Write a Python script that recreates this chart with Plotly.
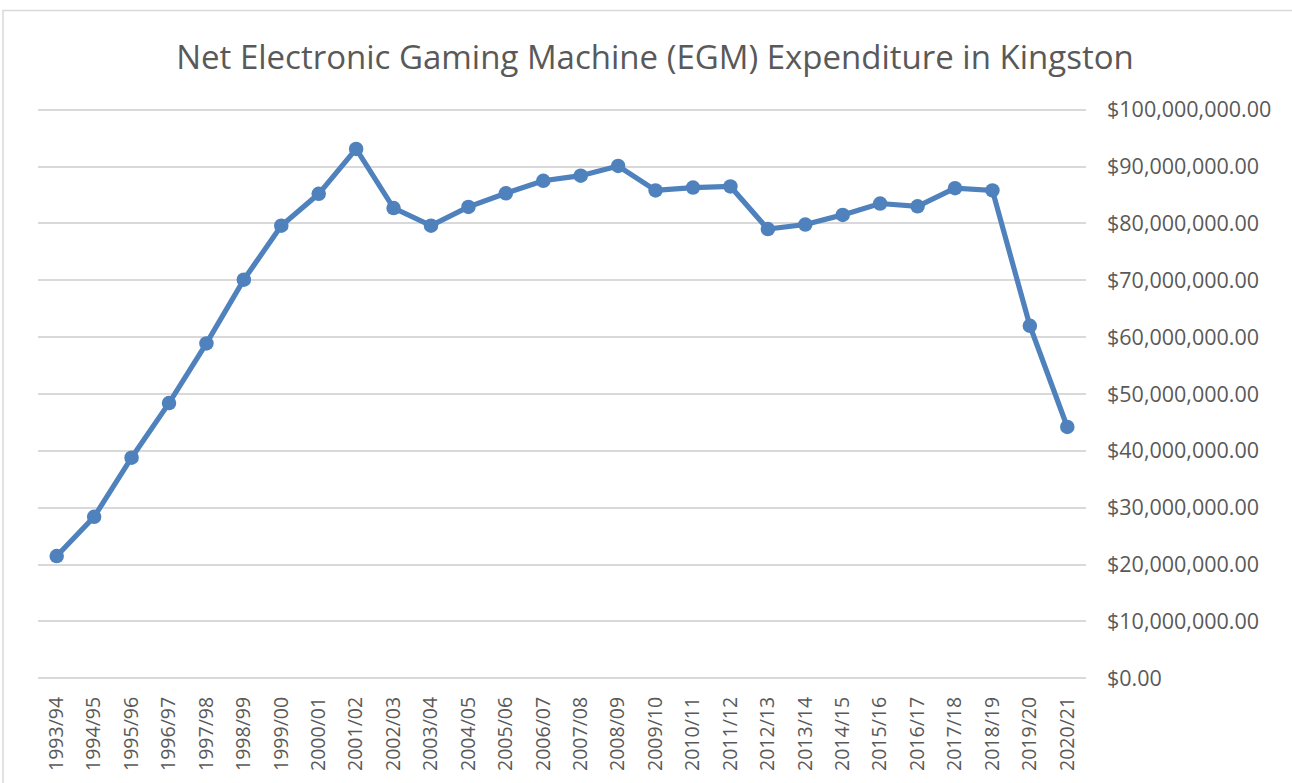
import plotly.graph_objects as go

years = ["1993/94", "1994/95", "1995/96", "1996/97", "1997/98", "1998/99", "1999/00",
         "2000/01", "2001/02", "2002/03", "2003/04", "2004/05", "2005/06", "2006/07",
         "2007/08", "2008/09", "2009/10", "2010/11", "2011/12", "2012/13", "2013/14",
         "2014/15", "2015/16", "2016/17", "2017/18", "2018/19", "2019/20", "2020/21"]
expenditure_m = [21.5, 28.4, 38.8, 48.4, 58.9, 70.1, 79.6,
                 85.2, 93.1, 82.7, 79.6, 82.9, 85.3, 87.5,
                 88.4, 90.1, 85.8, 86.3, 86.5, 79.0, 79.8,
                 81.5, 83.5, 83.0, 86.2, 85.8, 62.0, 44.2]
expenditure = [v * 1e6 for v in expenditure_m]

W, H = 1292, 783
PAD = 1e6            # value padding so the $0 and $100M gridlines are drawn
PX_PER_M = 5.68
L, R = 38, 206
T = 110 - PAD / 1e6 * PX_PER_M
B = 105 - PAD / 1e6 * PX_PER_M

fig = go.Figure()
fig.add_trace(go.Scatter(
    x=years, y=expenditure, mode="lines+markers",
    line=dict(color="#4F81BD", width=5.2),
    marker=dict(color="#4F81BD", size=14.5),
    showlegend=False,
))

fig.update_layout(
    width=W, height=H,
    margin=dict(l=L, r=R, t=T, b=B, autoexpand=False),
    paper_bgcolor="white", plot_bgcolor="white",
    title=dict(text="Net Electronic Gaming Machine (EGM) Expenditure in Kingston",
               x=655 / W, xanchor="center", y=1 - 57 / H, yanchor="middle",
               font=dict(family="Open Sans", size=33, color="#595959")),
    xaxis=dict(type="category", range=[-0.5, len(years) - 0.5], tickangle=-90,
               showgrid=False, showline=False,
               ticks="", automargin=False, ticklabelstandoff=8,
               tickfont=dict(family="Open Sans", size=19.5, color="#595959")),
    yaxis=dict(side="right", range=[-PAD, 1e8 + PAD], tickvals=[i * 1e7 for i in range(11)],
               tickformat="$,.2f",
               showgrid=True, gridcolor="#D9D9D9", gridwidth=1.5,
               zeroline=False, showline=False, ticks="", automargin=False,
               ticklabelstandoff=20,
               tickfont=dict(family="Open Sans", size=21.5, color="#595959")),
)

# outer chart border
ph = H - T - B
x0 = (3 - L) / (W - L - R)
x1 = (W + 10 - L) / (W - L - R)
y_top = 1 + (T - 11) / ph
y_bot = -(B + 10) / ph
fig.add_shape(type="rect", xref="paper", yref="paper", x0=x0, x1=x1, y0=y_bot, y1=y_top,
              line=dict(color="#D9D9D9", width=1.5), fillcolor="rgba(0,0,0,0)", layer="below")

fig.write_html("out.html", config={"displayModeBar": False},
               post_script="document.body.style.margin='0';")
